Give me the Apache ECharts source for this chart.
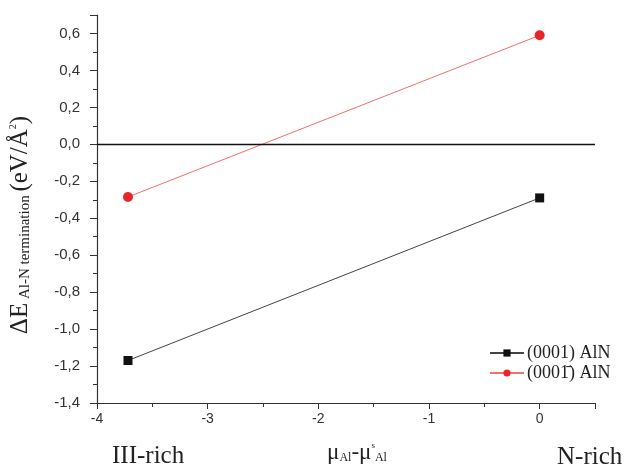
<!DOCTYPE html>
<html>
<head>
<meta charset="utf-8">
<script src="https://cdn.jsdelivr.net/npm/echarts@6/dist/echarts.min.js"></script>
<style>
  html, body { margin: 0; padding: 0; background: #fff; }
  #chart { width: 630px; height: 469px; }
</style>
</head>
<body>
<div id="chart"></div>
<script>
// chemical potential end points (III-rich -> N-rich)
var muX = [-3.72, 0];
var seriesNames = ['(0001) AlN', '(0001\u0304) AlN'];
var alnPlus = [-1.17, -0.29];   // (0001) AlN
var alnMinus = [-0.285, 0.59];  // (000-1) AlN
var yTicks = { min: -1.4, max: 0.7, step: 0.2 };
var xTicks = { min: -4, max: 0.5, step: 1 };

var serif = '"Liberation Serif", "DejaVu Serif", serif';
var sans = '"Liberation Sans", Arial, sans-serif';

function pairs(xs, ys) {
    return xs.map(function (x, i) { return [x, ys[i]]; });
}

var chart = echarts.init(document.getElementById('chart'));

var option = {
    animation: false,
    backgroundColor: '#fff',
    grid: { left: 96, right: 35, top: 15, bottom: 64 },
    legend: {
        left: 484,
        top: 339,
        orient: 'vertical',
        itemGap: 2,
        itemWidth: 34,
        itemHeight: 9,
        textStyle: { fontFamily: serif, fontSize: 18, color: '#222', padding: [0, 0, 0, -2] },
        data: seriesNames
    },
    xAxis: {
        type: 'value',
        min: xTicks.min,
        max: xTicks.max,
        interval: xTicks.step,
        splitLine: { show: false },
        axisLine: { onZero: false, lineStyle: { color: '#333', width: 1.2 } },
        axisTick: { length: 6, lineStyle: { color: '#333' } },
        minorTick: { show: true, splitNumber: 2, length: 4, lineStyle: { color: '#333' } },
        axisLabel: {
            fontFamily: sans, fontSize: 14, color: '#333', margin: 9,
            formatter: function (v) { return v > xTicks.max - 0.01 ? '' : String(v); }
        },
        name: '{mu|\u03bc}{s|Al}{mu|-\u03bc}{sup|s}{s|Al}',
        nameLocation: 'middle',
        nameGap: 38,
        nameTextStyle: {
            padding: [0, 0, 0, 22],
            rich: {
                mu: { fontFamily: serif, fontSize: 23, color: '#222' },
                s: { fontFamily: serif, fontSize: 12, color: '#222', verticalAlign: 'bottom', lineHeight: 14, padding: [9, 0, 0, 0] },
                sup: { fontFamily: serif, fontSize: 9, color: '#222', verticalAlign: 'top', padding: [0, 0, 8, 0] }
            }
        }
    },
    yAxis: {
        type: 'value',
        min: yTicks.min,
        max: yTicks.max,
        interval: yTicks.step,
        splitLine: { show: false },
        axisLine: { onZero: false, lineStyle: { color: '#333', width: 1.2 } },
        axisTick: { length: 7, lineStyle: { color: '#333' } },
        minorTick: { show: true, splitNumber: 2, length: 4, lineStyle: { color: '#333' } },
        axisLabel: {
            fontFamily: sans, fontSize: 15, color: '#333', margin: 17,
            formatter: function (v) {
                if (v > 0.65) return '';
                return v.toFixed(1).replace('.', ',');
            }
        },
        name: '{big|\u0394E}{sub| Al-N termination }{big|(eV/\u00c5}{sup|2}{big|)}',
        nameLocation: 'middle',
        nameGap: 64,
        nameRotate: 90,
        nameTextStyle: {
            padding: [0, 32, 0, 0],
            rich: {
                big: { fontFamily: serif, fontSize: 25, color: '#222' },
                sub: { fontFamily: serif, fontSize: 15, color: '#222', verticalAlign: 'bottom', padding: [9, 0, 0, 0] },
                sup: { fontFamily: serif, fontSize: 10, color: '#222', verticalAlign: 'top', padding: [0, 0, 12, 0] }
            }
        }
    },
    graphic: [
        { type: 'text', left: 112, top: 444, style: { text: 'III-rich', fontFamily: serif, fontSize: 25, fill: '#222' } },
        { type: 'text', left: 557, top: 445, style: { text: 'N-rich', fontFamily: serif, fontSize: 25, fill: '#222' } }
    ],
    series: [
        {
            name: seriesNames[0],
            type: 'line',
            data: pairs(muX, alnPlus),
            symbol: 'rect',
            symbolSize: 9,
            lineStyle: { color: '#444', width: 1 },
            itemStyle: { color: '#111' },
            markLine: {
                silent: true,
                symbol: 'none',
                label: { show: false },
                lineStyle: { color: '#111', width: 1.3, type: 'solid' },
                data: [{ yAxis: 0 }]
            },
            z: 3
        },
        {
            name: seriesNames[1],
            type: 'line',
            data: pairs(muX, alnMinus),
            symbol: 'circle',
            symbolSize: 10,
            lineStyle: { color: '#f07070', width: 1 },
            itemStyle: { color: '#e8262a' },
            z: 3
        }
    ]
};

chart.setOption(option);
</script>
</body>
</html>
